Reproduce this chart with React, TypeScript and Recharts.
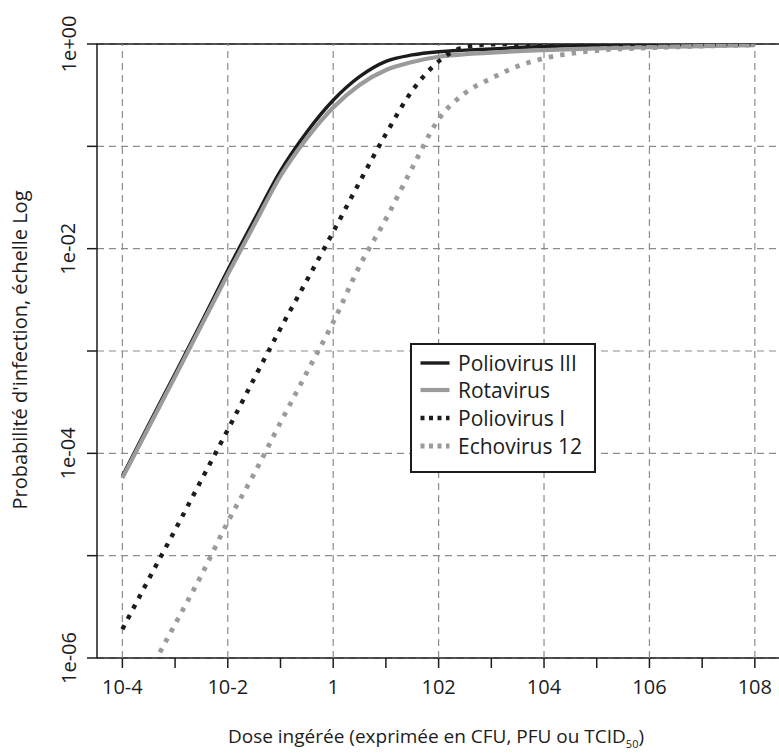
import React from 'react';
import {
  LineChart,
  Line,
  XAxis,
  YAxis,
  CartesianGrid,
  ReferenceLine,
  ReferenceArea,
  Legend,
} from 'recharts';

// doses (x), demi-décades puis décades
const doseValues = [
  1e-4, 3.16e-4, 1e-3, 3.16e-3, 1e-2, 3.16e-2, 0.1, 0.316, 1, 3.16, 10, 31.6,
  100, 316, 1000, 3160, 1e4, 1e5, 1e6, 1e7, 1e8,
];

// probabilités d'infection estimées pour chaque dose
const poliovirus3 = [
  6.0e-5, 1.91e-4, 6.0e-4, 1.91e-3, 6.2e-3, 0.0191, 0.0575, 0.138, 0.282, 0.479,
  0.676, 0.782, 0.841, 0.871, 0.895, 0.923, 0.944, 0.97, 0.984, 0.993, 0.998,
];
const rotavirus = [
  5.75e-5, 1.8e-4, 5.62e-4, 1.78e-3, 5.62e-3, 0.017, 0.0513, 0.12, 0.24, 0.398,
  0.557, 0.667, 0.751, 0.794, 0.822, 0.851, 0.873, 0.908, 0.933, 0.955, 0.977,
];
const poliovirus1 = [
  1.91e-6, 5.89e-6, 1.78e-5, 5.5e-5, 1.7e-4, 5.37e-4, 1.66e-3, 4.9e-3, 0.0146,
  0.0447, 0.132, 0.35, 0.676, 0.933, 0.993, 1, 1, 1, 1, 1, 1,
];
const echovirus12 = [
  2.24e-7, 7.08e-7, 2.14e-6, 6.46e-6, 2.14e-5, 6.31e-5, 2.0e-4, 6.17e-4, 1.91e-3,
  6.76e-3, 0.0195, 0.0617, 0.184, 0.331, 0.462, 0.607, 0.724, 0.863, 0.918,
  0.953, 0.977,
];

const xTickValues = [1e-4, 1e-3, 1e-2, 1e-1, 1, 10, 100, 1e3, 1e4, 1e5, 1e6, 1e7, 1e8];
const xTickLabels = ['10-4', '', '10-2', '', '1', '', '102', '', '104', '', '106', '', '108'];
const xGridValues = [1e-4, 1e-2, 1, 100, 1e4, 1e6, 1e8];
const yTickValues = [1e-6, 1e-5, 1e-4, 1e-3, 1e-2, 1e-1, 1];
const yTickLabels = ['1e-06', '', '1e-04', '', '1e-02', '', '1e+00'];

const xDomain = [3.3e-5, 3.0e8];
const yDomain = [1e-6, 1];

const font = '"Open Sans", sans-serif';
const ink = '#1c1c1c';
const grey = '#9b9b9b';
const gridColor = '#8c8c8c';

const toRows = (vals: number[]) => doseValues.map((d, i) => ({ d, p: vals[i] }));

const series = [
  { name: 'Poliovirus III', data: toRows(poliovirus3), color: ink, width: 3.4, dash: undefined as string | undefined, legendDash: undefined as string | undefined },
  { name: 'Rotavirus', data: toRows(rotavirus), color: grey, width: 4.2, dash: undefined, legendDash: undefined },
  { name: 'Poliovirus I', data: toRows(poliovirus1), color: ink, width: 4.4, dash: '4.4 7.2', legendDash: '4 4.5' },
  { name: 'Echovirus 12', data: toRows(echovirus12), color: grey, width: 4.8, dash: '4.4 7.2', legendDash: '4 4.5' },
];

const findIndex = (arr: number[], v: number) =>
  arr.findIndex((t) => Math.abs(Math.log10(t) - Math.log10(v)) < 1e-6);

const XTick = (props: any) => {
  const { x, y, payload } = props;
  const label = xTickLabels[findIndex(xTickValues, payload.value)];
  if (!label) return <g />;
  return (
    <text x={x} y={y} dy="0.71em" textAnchor="middle" fill={ink} fontSize={20} fontFamily={font}>
      {label}
    </text>
  );
};

const YTick = (props: any) => {
  const { x, y, payload } = props;
  const label = yTickLabels[findIndex(yTickValues, payload.value)];
  if (!label) return <g />;
  return (
    <text
      x={x}
      y={y}
      transform={`rotate(-90, ${x}, ${y})`}
      textAnchor="middle"
      dominantBaseline="central"
      fill={ink}
      fontSize={20}
      fontFamily={font}
    >
      {label}
    </text>
  );
};

const LegendBox = () => (
  <div
    style={{
      position: 'relative',
      width: 186,
      height: 130,
      boxSizing: 'border-box',
      border: `2.5px solid ${ink}`,
      background: '#fff',
      fontFamily: font,
    }}
  >
    {series.map((s, i) => (
      <div
        key={s.name}
        style={{
          position: 'absolute',
          left: 0,
          top: 20 + i * 27.8 - 14 - 2.5,
          height: 28,
          display: 'flex',
          alignItems: 'center',
          whiteSpace: 'nowrap',
        }}
      >
        <svg width={46} height={10} style={{ display: 'block' }}>
          <line x1={8.5} x2={37.5} y1={5} y2={5} stroke={s.color} strokeWidth={s.width} strokeDasharray={s.legendDash} />
        </svg>
        <span style={{ fontSize: 21, color: ink, lineHeight: '28px' }}>{s.name}</span>
      </div>
    ))}
  </div>
);

export default function App() {
  return (
    <div
      style={{
        position: 'absolute',
        left: 0,
        top: 0,
        width: 779,
        height: 755,
        overflow: 'hidden',
        background: '#fff',
        fontFamily: font,
      }}
    >
      <LineChart width={781} height={755} margin={{ top: 44, right: 1, bottom: 0, left: 0 }}>
        <CartesianGrid vertical={false} stroke={gridColor} strokeWidth={1.2} strokeDasharray="7 5" />
        {xGridValues.map((v) => (
          <ReferenceLine key={v} x={v} stroke={gridColor} strokeWidth={1.2} strokeDasharray="7 5" />
        ))}
        <XAxis
          dataKey="d"
          type="number"
          scale="log"
          domain={xDomain}
          allowDataOverflow
          ticks={xTickValues}
          interval={0}
          height={97}
          tickSize={10}
          tickMargin={12}
          axisLine={false}
          tickLine={{ stroke: ink, strokeWidth: 1.5 }}
          tick={<XTick />}
        />
        <YAxis
          dataKey="p"
          type="number"
          scale="log"
          domain={yDomain}
          allowDataOverflow
          ticks={yTickValues}
          interval={0}
          width={97}
          tickSize={10}
          tickMargin={19}
          axisLine={false}
          tickLine={{ stroke: ink, strokeWidth: 1.5 }}
          tick={<YTick />}
        />
        {series.map((s) => (
          <Line
            key={s.name}
            data={s.data}
            dataKey="p"
            name={s.name}
            type="monotone"
            stroke={s.color}
            strokeWidth={s.width}
            strokeDasharray={s.dash}
            dot={false}
            activeDot={false}
            isAnimationActive={false}
          />
        ))}
        <ReferenceArea
          x1={xDomain[0]}
          x2={xDomain[1]}
          y1={yDomain[0]}
          y2={yDomain[1]}
          fill="none"
          fillOpacity={0}
          stroke={ink}
          strokeWidth={1.5}
          ifOverflow="visible"
        />
        <Legend
          layout="horizontal"
          verticalAlign="middle"
          align="center"
          wrapperStyle={{ left: 410, top: 343, width: 186, height: 130 }}
          content={() => <LegendBox />}
        />
      </LineChart>
      <div
        style={{
          position: 'absolute',
          left: 436,
          top: 737,
          transform: 'translate(-50%, -50%)',
          whiteSpace: 'nowrap',
          fontSize: 19,
          color: ink,
        }}
      >
        Dose ingérée (exprimée en CFU, PFU ou TCID<sub style={{ fontSize: 11 }}>50</sub>)
      </div>
      <div
        style={{
          position: 'absolute',
          left: 19,
          top: 350,
          transform: 'translate(-50%, -50%) rotate(-90deg)',
          whiteSpace: 'nowrap',
          fontSize: 20,
          color: ink,
        }}
      >
        Probabilité d'infection, échelle Log
      </div>
    </div>
  );
}
